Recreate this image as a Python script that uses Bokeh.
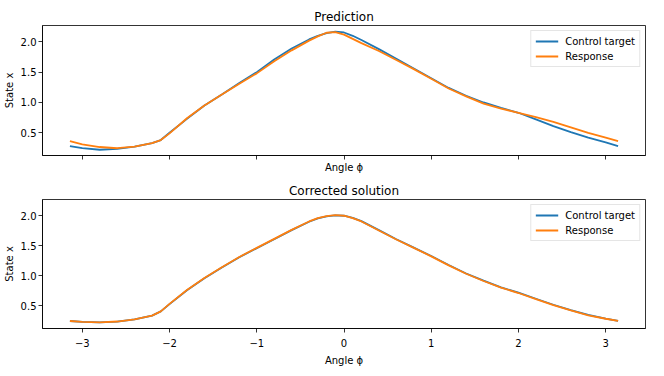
from bokeh.plotting import figure
from bokeh.layouts import column
from bokeh.models import Range1d, FixedTicker
from bokeh.embed import file_html
from bokeh.resources import INLINE

# ---- data ----
phi = [-3.1416, -3.0, -2.8, -2.6, -2.4, -2.2, -2.1, -2.0, -1.8, -1.6, -1.4, -1.2,
       -1.0, -0.8, -0.6, -0.4, -0.3, -0.2, -0.1, 0.0, 0.1, 0.2, 0.4, 0.6, 0.8,
       1.0, 1.2, 1.4, 1.6, 1.8, 2.0, 2.2, 2.4, 2.6, 2.8, 3.0, 3.1416]

pred_target = [0.28, 0.245, 0.22, 0.235, 0.27, 0.33, 0.38, 0.50, 0.73, 0.95, 1.13, 1.32,
               1.50, 1.71, 1.89, 2.04, 2.10, 2.145, 2.17, 2.155, 2.10, 2.03, 1.88, 1.72, 1.56,
               1.40, 1.24, 1.11, 1.00, 0.91, 0.83, 0.72, 0.61, 0.51, 0.42, 0.34, 0.28]

pred_response = [0.362, 0.31, 0.265, 0.245, 0.27, 0.33, 0.38, 0.49, 0.74, 0.95, 1.13, 1.31,
                 1.48, 1.68, 1.86, 2.02, 2.09, 2.15, 2.16, 2.12, 2.05, 1.98, 1.85, 1.70, 1.55,
                 1.39, 1.23, 1.10, 0.98, 0.90, 0.83, 0.76, 0.68, 0.59, 0.50, 0.42, 0.362]

corr_target = [0.25, 0.235, 0.227, 0.24, 0.275, 0.34, 0.41, 0.53, 0.76, 0.96, 1.14, 1.31,
               1.46, 1.61, 1.76, 1.90, 1.955, 1.99, 2.005, 2.0, 1.965, 1.91, 1.76, 1.61, 1.47,
               1.33, 1.18, 1.04, 0.92, 0.81, 0.72, 0.62, 0.52, 0.43, 0.35, 0.29, 0.25]

corr_response = [0.25, 0.236, 0.228, 0.241, 0.276, 0.34, 0.41, 0.535, 0.765, 0.965, 1.145, 1.315,
                 1.465, 1.615, 1.765, 1.905, 1.96, 1.995, 2.01, 2.0, 1.96, 1.905, 1.755, 1.605, 1.465,
                 1.325, 1.175, 1.035, 0.915, 0.805, 0.715, 0.615, 0.515, 0.425, 0.345, 0.287, 0.25]

xticks = [-3, -2, -1, 0, 1, 2, 3]
xtick_labels = ["\u22123", "\u22122", "\u22121", "0", "1", "2", "3"]
yticks = [0.5, 1.0, 1.5, 2.0]
ytick_labels = ["0.5", "1.0", "1.5", "2.0"]

FONT = "DejaVu Sans"
BLUE = "#1f77b4"
ORANGE = "#ff7f0e"


def style_axis(ax):
    ax.axis_line_color = "black"
    ax.axis_line_width = 0.8
    ax.major_tick_line_color = "black"
    ax.major_tick_line_width = 0.8
    ax.major_tick_out = 4
    ax.major_tick_in = 0
    ax.minor_tick_line_color = None
    ax.major_label_text_font = FONT
    ax.major_label_text_font_size = "10px"
    ax.major_label_text_color = "black"
    ax.axis_label_text_font = FONT
    ax.axis_label_text_font_size = "10px"
    ax.axis_label_text_font_style = "normal"
    ax.axis_label_text_color = "black"


def make_fig(title, target, response, height, top, bottom, show_xlabels):
    p = figure(width=648, height=height, output_backend="svg", toolbar_location=None,
               x_range=Range1d(-3.456, 3.456), y_range=Range1d(0.125, 2.27),
               min_border_left=0, min_border_right=3, min_border_top=top,
               min_border_bottom=bottom)
    p.title.text = title
    p.title.align = "center"
    p.title.text_font = FONT
    p.title.text_font_size = "12px"
    p.title.text_font_style = "normal"
    p.title.text_color = "black"
    p.title.standoff = 3

    p.line(phi, target, line_color=BLUE, line_width=1.8, legend_label="Control target")
    p.line(phi, response, line_color=ORANGE, line_width=1.8, legend_label="Response")

    p.xgrid.visible = False
    p.ygrid.visible = False
    p.outline_line_color = "black"
    p.outline_line_width = 0.8
    p.outline_line_alpha = 1.0

    style_axis(p.xaxis[0])
    style_axis(p.yaxis[0])

    p.yaxis.ticker = FixedTicker(ticks=yticks)
    p.yaxis.major_label_overrides = dict(zip(yticks, ytick_labels))
    p.yaxis.axis_label = "State x"
    p.yaxis.major_label_standoff = 2
    p.yaxis.axis_label_standoff = 3
    p.xaxis.axis_label = "Angle \u03d5"
    if show_xlabels:
        p.xaxis.ticker = FixedTicker(ticks=xticks)
        p.xaxis.major_label_overrides = dict(zip(xticks, xtick_labels))
        p.xaxis.major_label_standoff = 6
        p.xaxis.axis_label_standoff = 5
    else:
        # shared x axis: tick marks only, no tick labels
        p.xaxis.ticker = FixedTicker(ticks=[], minor_ticks=xticks)
        p.xaxis.minor_tick_line_color = "black"
        p.xaxis.minor_tick_line_width = 0.8
        p.xaxis.minor_tick_out = 4
        p.xaxis.minor_tick_in = 0
        p.xaxis.major_label_standoff = 0
        p.xaxis.axis_label_standoff = 2

    lg = p.legend[0]
    lg.location = "top_right"
    lg.margin = 5
    lg.padding = 4
    lg.spacing = 3
    lg.glyph_width = 23
    lg.glyph_height = 12
    lg.label_height = 12
    lg.label_standoff = 7
    lg.label_text_font = FONT
    lg.label_text_font_size = "10px"
    lg.label_text_color = "black"
    lg.border_line_color = "#cccccc"
    lg.border_line_width = 1
    lg.background_fill_alpha = 0.8
    return p


p1 = make_fig("Prediction", pred_target, pred_response, 180, 25, 25, False)
p2 = make_fig("Corrected solution", corr_target, corr_response, 189, 18, 41, True)

layout = column(p1, p2, spacing=0)
open("out.html", "w").write(file_html(layout, INLINE))
